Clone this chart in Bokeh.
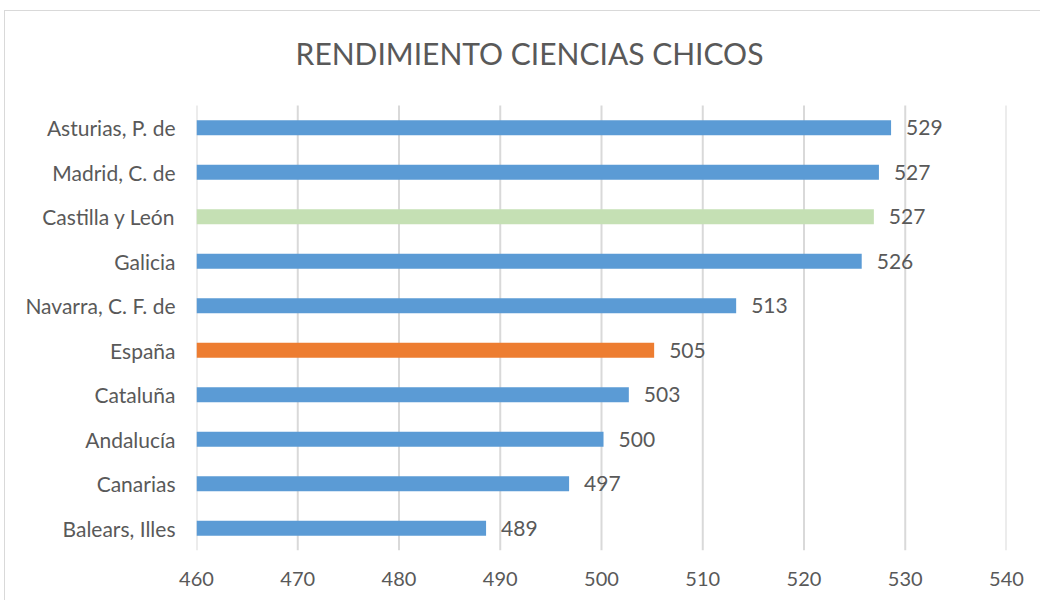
from bokeh.plotting import figure
from bokeh.models import ColumnDataSource, FixedTicker, Range1d
from bokeh.core.properties import value
from bokeh.embed import file_html
from bokeh.resources import INLINE

regions = ["Asturias, P. de", "Madrid, C. de", "Castilla y León", "Galicia",
           "Navarra, C. F. de", "España", "Cataluña", "Andalucía", "Canarias", "Balears, Illes"]
scores = [528.6, 527.4, 526.9, 525.7, 513.3, 505.2, 502.7, 500.2, 496.8, 488.6]
score_labels = ["529", "527", "527", "526", "513", "505", "503", "500", "497", "489"]
bar_colors = ["#5B9BD5", "#5B9BD5", "#C5E0B4", "#5B9BD5", "#5B9BD5",
              "#ED7D31", "#5B9BD5", "#5B9BD5", "#5B9BD5", "#5B9BD5"]
x_ticks = [460, 470, 480, 490, 500, 510, 520, 530, 540]
title_text = "RENDIMIENTO CIENCIAS CHICOS"

FONT = "Lato"
TXT = "#595959"

# layout (pixels)
ROW_PX = 44.5          # height of one category row
PLOT_H = 590
BOTTOM = 51
TITLE_GAP = 53         # title anchor above the top row edge
TITLE_X = 333          # title centre, px right of the axis start

n = len(regions)
ypos = [n - 1 - i for i in range(n)]
frame_units = (PLOT_H - BOTTOM) / ROW_PX
y_lo = -0.5
y_hi = y_lo + frame_units

src = ColumnDataSource(dict(y=ypos, score=scores, lbl=score_labels,
                            color=bar_colors, base=[x_ticks[0]] * n))

p = figure(width=1036, height=PLOT_H, title=None,
           x_range=(x_ticks[0], x_ticks[-1]), y_range=Range1d(y_lo, y_hi),
           output_backend="svg", toolbar_location=None,
           min_border_left=191, min_border_right=35,
           min_border_top=0, min_border_bottom=BOTTOM)
p.styles = {"border-left": "1px solid #d9d9d9", "border-top": "1px solid #d9d9d9",
            "margin-left": "4px", "margin-top": "10px"}
p.outline_line_color = None
p.background_fill_color = "white"
p.border_fill_color = "white"
p.xgrid.grid_line_color = None
p.ygrid.grid_line_color = None

# vertical gridlines spanning the category rows
p.segment(x0=x_ticks, x1=x_ticks, y0=[y_lo] * len(x_ticks),
          y1=[n - 0.5] * len(x_ticks), line_color="#d9d9d9", line_width=2)

p.hbar(y="y", left="base", right="score", height=0.34, color="color",
       line_color=None, source=src)
p.text(x="score", y="y", text="lbl", source=src, x_offset=15,
       text_baseline="middle", text_align="left", text_color=TXT,
       text_font=value(FONT), text_font_size="21px")

# chart title
p.text(x=[x_ticks[0]], y=[n - 0.5 + TITLE_GAP / ROW_PX], text=[title_text],
       x_offset=TITLE_X, text_align="center", text_baseline="alphabetic",
       text_color=TXT, text_font=value(FONT), text_font_size="30px")

p.xaxis.ticker = FixedTicker(ticks=x_ticks)
p.yaxis.ticker = FixedTicker(ticks=ypos)
p.yaxis.major_label_overrides = {y: r for y, r in zip(ypos, regions)}
for ax in (p.xaxis[0], p.yaxis[0]):
    ax.axis_line_color = None
    ax.major_tick_line_color = None
    ax.minor_tick_line_color = None
    ax.major_label_text_color = TXT
    ax.major_label_text_font = FONT
ax_x, ax_y = p.xaxis[0], p.yaxis[0]
ax_x.major_label_text_font_size = "20px"
ax_y.major_label_text_font_size = "21px"
ax_x.major_label_standoff = 15
ax_y.major_label_standoff = 15

open("out.html", "w").write(file_html(p, INLINE))
